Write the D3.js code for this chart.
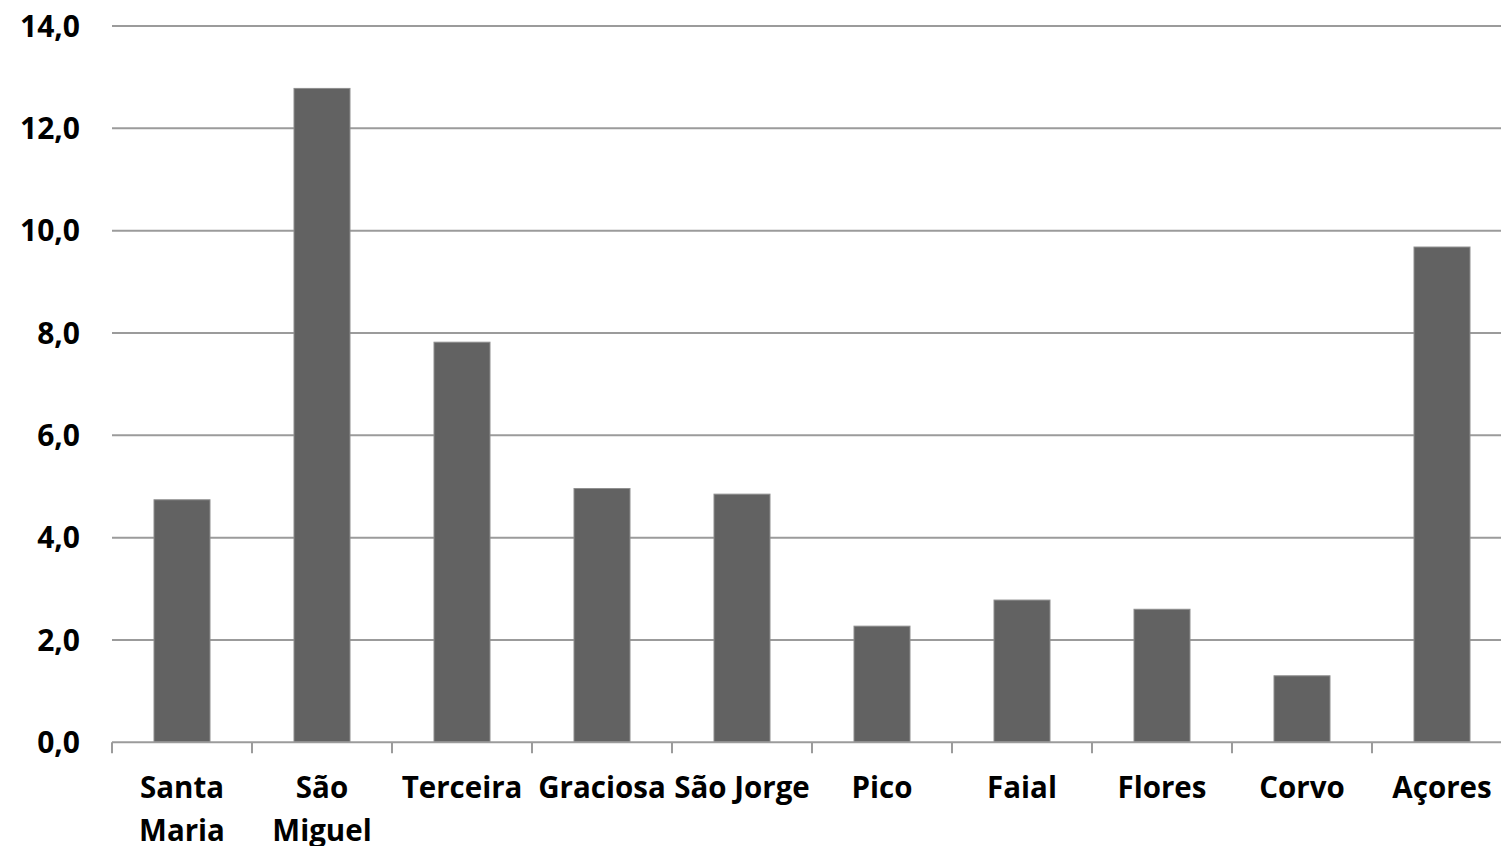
<!DOCTYPE html>
<html><head><meta charset="utf-8">
<script src="https://cdn.jsdelivr.net/npm/d3@7"></script>
<style>html,body{margin:0;padding:0;background:#fff;overflow:hidden}</style>
</head><body>
<svg id="c" width="1501" height="846"></svg>
<script>
const categories = [["Santa","Maria"],["São","Miguel"],["Terceira"],["Graciosa"],["São Jorge"],["Pico"],["Faial"],["Flores"],["Corvo"],["Açores"]];
const values = [4.74, 12.78, 7.82, 4.96, 4.85, 2.27, 2.78, 2.60, 1.30, 9.68];
const yTicks = [0, 2, 4, 6, 8, 10, 12, 14];

(function(){
const svg = d3.select("#c");
const mLeft = 112, mRight = 1512, mTop = 26, mBottom = 742.3;
const keys = categories.map(c => c.join(" "));
const x = d3.scaleBand().domain(keys).range([mLeft, mRight]).paddingInner(0.6).paddingOuter(0.3);
const y = d3.scaleLinear().domain([0, 14]).range([mBottom, mTop]);
const font = "'Open Sans', Lato, sans-serif";

svg.append("g").selectAll("line").data(yTicks.filter(d => d > 0)).join("line")
  .attr("x1", mLeft).attr("x2", mRight).attr("y1", d => y(d)).attr("y2", d => y(d))
  .attr("stroke", "#9b9b9b").attr("stroke-width", 2);

svg.append("g").selectAll("text").data(yTicks).join("text")
  .attr("x", 80).attr("y", d => y(d)).attr("dy", "0.36em")
  .attr("text-anchor", "end").attr("font-family", font).attr("font-weight", 700)
  .attr("font-size", 30).attr("fill", "#000")
  .text(d => d.toFixed(1).replace(".", ","));

svg.append("g").selectAll("rect").data(values).join("rect")
  .attr("x", (d, i) => x(keys[i])).attr("width", x.bandwidth())
  .attr("y", d => y(d)).attr("height", d => mBottom - y(d))
  .attr("fill", "#626262").attr("stroke", "#8e8e8e").attr("stroke-width", 1);

const tickXs = d3.range(0, keys.length + 1).map(i => mLeft + i * (mRight - mLeft) / keys.length);
svg.append("line").attr("x1", mLeft).attr("x2", mRight).attr("y1", mBottom).attr("y2", mBottom)
  .attr("stroke", "#9b9b9b").attr("stroke-width", 2);
svg.append("g").selectAll("line").data(tickXs).join("line")
  .attr("x1", d => d).attr("x2", d => d).attr("y1", mBottom).attr("y2", mBottom + 11)
  .attr("stroke", "#9b9b9b").attr("stroke-width", 2);

const lab = svg.append("g").selectAll("text").data(categories).join("text")
  .attr("x", (d, i) => x(keys[i]) + x.bandwidth() / 2).attr("y", 798)
  .attr("text-anchor", "middle").attr("font-family", font).attr("font-weight", 700)
  .attr("font-size", 29.5).attr("fill", "#000");
lab.selectAll("tspan").data(d => d).join("tspan")
  .attr("x", function() { return d3.select(this.parentNode).attr("x"); })
  .attr("dy", (d, i) => i === 0 ? 0 : 43)
  .text(d => d);
})();
</script>
</body></html>
